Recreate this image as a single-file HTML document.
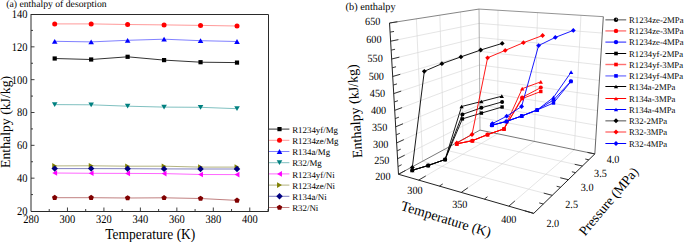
<!DOCTYPE html>
<html><head><meta charset="utf-8"><style>
html,body{margin:0;padding:0;background:#fff;}
body{width:685px;height:242px;overflow:hidden;}
svg{display:block;font-family:"Liberation Serif", serif;}
text{fill:#000;text-rendering:geometricPrecision;}
</style></head><body>
<svg width="685" height="242" viewBox="0 0 685 242">
<text x="6.3" y="7" font-size="9.7" text-anchor="start" >(a) enthalpy of desorption</text>
<line x1="49.23" y1="211" x2="49.23" y2="209" stroke="#2a2a2a" stroke-width="0.9"/>
<line x1="67.46" y1="211" x2="67.46" y2="207.5" stroke="#2a2a2a" stroke-width="0.9"/>
<line x1="85.69" y1="211" x2="85.69" y2="209" stroke="#2a2a2a" stroke-width="0.9"/>
<line x1="103.92" y1="211" x2="103.92" y2="207.5" stroke="#2a2a2a" stroke-width="0.9"/>
<line x1="122.15" y1="211" x2="122.15" y2="209" stroke="#2a2a2a" stroke-width="0.9"/>
<line x1="140.38" y1="211" x2="140.38" y2="207.5" stroke="#2a2a2a" stroke-width="0.9"/>
<line x1="158.62" y1="211" x2="158.62" y2="209" stroke="#2a2a2a" stroke-width="0.9"/>
<line x1="176.85" y1="211" x2="176.85" y2="207.5" stroke="#2a2a2a" stroke-width="0.9"/>
<line x1="195.08" y1="211" x2="195.08" y2="209" stroke="#2a2a2a" stroke-width="0.9"/>
<line x1="213.31" y1="211" x2="213.31" y2="207.5" stroke="#2a2a2a" stroke-width="0.9"/>
<line x1="231.54" y1="211" x2="231.54" y2="209" stroke="#2a2a2a" stroke-width="0.9"/>
<line x1="249.77" y1="211" x2="249.77" y2="207.5" stroke="#2a2a2a" stroke-width="0.9"/>
<line x1="268" y1="211" x2="268" y2="209" stroke="#2a2a2a" stroke-width="0.9"/>
<line x1="31" y1="194.58" x2="33" y2="194.58" stroke="#2a2a2a" stroke-width="0.9"/>
<line x1="31" y1="178.17" x2="34.5" y2="178.17" stroke="#2a2a2a" stroke-width="0.9"/>
<line x1="31" y1="161.75" x2="33" y2="161.75" stroke="#2a2a2a" stroke-width="0.9"/>
<line x1="31" y1="145.33" x2="34.5" y2="145.33" stroke="#2a2a2a" stroke-width="0.9"/>
<line x1="31" y1="128.92" x2="33" y2="128.92" stroke="#2a2a2a" stroke-width="0.9"/>
<line x1="31" y1="112.5" x2="34.5" y2="112.5" stroke="#2a2a2a" stroke-width="0.9"/>
<line x1="31" y1="96.08" x2="33" y2="96.08" stroke="#2a2a2a" stroke-width="0.9"/>
<line x1="31" y1="79.67" x2="34.5" y2="79.67" stroke="#2a2a2a" stroke-width="0.9"/>
<line x1="31" y1="63.25" x2="33" y2="63.25" stroke="#2a2a2a" stroke-width="0.9"/>
<line x1="31" y1="46.83" x2="34.5" y2="46.83" stroke="#2a2a2a" stroke-width="0.9"/>
<line x1="31" y1="30.42" x2="33" y2="30.42" stroke="#2a2a2a" stroke-width="0.9"/>
<path d="M31,14.5H268.5V211.5H31V14" fill="none" stroke="#2a2a2a" stroke-width="1"/>
<text transform="translate(31,223) scale(1,1.12)" font-size="10.5" text-anchor="middle" >280</text>
<text transform="translate(67.46,223) scale(1,1.12)" font-size="10.5" text-anchor="middle" >300</text>
<text transform="translate(103.92,223) scale(1,1.12)" font-size="10.5" text-anchor="middle" >320</text>
<text transform="translate(140.38,223) scale(1,1.12)" font-size="10.5" text-anchor="middle" >340</text>
<text transform="translate(176.85,223) scale(1,1.12)" font-size="10.5" text-anchor="middle" >360</text>
<text transform="translate(213.31,223) scale(1,1.12)" font-size="10.5" text-anchor="middle" >380</text>
<text transform="translate(249.77,223) scale(1,1.12)" font-size="10.5" text-anchor="middle" >400</text>
<text transform="translate(27.6,214.9) scale(1,1.12)" font-size="10.5" text-anchor="end" >20</text>
<text transform="translate(27.6,182.07) scale(1,1.12)" font-size="10.5" text-anchor="end" >40</text>
<text transform="translate(27.6,149.23) scale(1,1.12)" font-size="10.5" text-anchor="end" >60</text>
<text transform="translate(27.6,116.4) scale(1,1.12)" font-size="10.5" text-anchor="end" >80</text>
<text transform="translate(27.6,83.57) scale(1,1.12)" font-size="10.5" text-anchor="end" >100</text>
<text transform="translate(27.6,50.73) scale(1,1.12)" font-size="10.5" text-anchor="end" >120</text>
<text transform="translate(27.6,17.9) scale(1,1.12)" font-size="10.5" text-anchor="end" >140</text>
<text transform="translate(150.3,238.7) scale(1,1.12)" font-size="13.5" text-anchor="middle" >Temperature (K)</text>
<text transform="translate(9.9,121.9) rotate(-90)" font-size="13.75" text-anchor="middle">Enthalpy (kJ/kg)</text>
<polyline points="54.7,58.5 91.16,59.5 127.62,56.8 164.08,60.1 200.55,62.2 237.01,62.6" fill="none" stroke="#000000" stroke-width="0.8"/>
<rect x="52.6" y="56.4" width="4.2" height="4.2" fill="#000000"/>
<rect x="89.06" y="57.4" width="4.2" height="4.2" fill="#000000"/>
<rect x="125.52" y="54.7" width="4.2" height="4.2" fill="#000000"/>
<rect x="161.98" y="58" width="4.2" height="4.2" fill="#000000"/>
<rect x="198.45" y="60.1" width="4.2" height="4.2" fill="#000000"/>
<rect x="234.91" y="60.5" width="4.2" height="4.2" fill="#000000"/>
<polyline points="54.7,23.9 91.16,23.9 127.62,24.5 164.08,24.9 200.55,25.4 237.01,26" fill="none" stroke="#ff8080" stroke-width="0.8"/>
<circle cx="54.7" cy="23.9" r="2.5" fill="#ff0000"/>
<circle cx="91.16" cy="23.9" r="2.5" fill="#ff0000"/>
<circle cx="127.62" cy="24.5" r="2.5" fill="#ff0000"/>
<circle cx="164.08" cy="24.9" r="2.5" fill="#ff0000"/>
<circle cx="200.55" cy="25.4" r="2.5" fill="#ff0000"/>
<circle cx="237.01" cy="26" r="2.5" fill="#ff0000"/>
<polyline points="54.7,41.3 91.16,41.9 127.62,40.3 164.08,39.2 200.55,40.7 237.01,41.5" fill="none" stroke="#6060ff" stroke-width="0.8"/>
<polygon points="54.7,38.88 57.49,43.72 51.91,43.72" fill="#0000ff"/>
<polygon points="91.16,39.48 93.95,44.32 88.37,44.32" fill="#0000ff"/>
<polygon points="127.62,37.88 130.42,42.72 124.83,42.72" fill="#0000ff"/>
<polygon points="164.08,36.78 166.88,41.62 161.29,41.62" fill="#0000ff"/>
<polygon points="200.55,38.28 203.34,43.12 197.75,43.12" fill="#0000ff"/>
<polygon points="237.01,39.08 239.8,43.92 234.22,43.92" fill="#0000ff"/>
<polyline points="54.7,104.6 91.16,104.8 127.62,106.2 164.08,107.1 200.55,107.3 237.01,108.7" fill="none" stroke="#60b0b0" stroke-width="0.8"/>
<polygon points="54.7,107.02 51.91,102.18 57.49,102.18" fill="#008080"/>
<polygon points="91.16,107.22 88.37,102.38 93.95,102.38" fill="#008080"/>
<polygon points="127.62,108.62 124.83,103.78 130.42,103.78" fill="#008080"/>
<polygon points="164.08,109.52 161.29,104.68 166.88,104.68" fill="#008080"/>
<polygon points="200.55,109.72 197.75,104.88 203.34,104.88" fill="#008080"/>
<polygon points="237.01,111.12 234.22,106.28 239.8,106.28" fill="#008080"/>
<polyline points="54.7,173 91.16,173.3 127.62,173.4 164.08,173.6 200.55,174.5 237.01,174.6" fill="none" stroke="#ff40ff" stroke-width="0.8"/>
<polygon points="52.28,173 57.12,170.21 57.12,175.79" fill="#ff00ff"/>
<polygon points="88.74,173.3 93.58,170.51 93.58,176.09" fill="#ff00ff"/>
<polygon points="125.21,173.4 130.04,170.61 130.04,176.19" fill="#ff00ff"/>
<polygon points="161.67,173.6 166.5,170.81 166.5,176.39" fill="#ff00ff"/>
<polygon points="198.13,174.5 202.96,171.71 202.96,177.29" fill="#ff00ff"/>
<polygon points="234.59,174.6 239.43,171.81 239.43,177.39" fill="#ff00ff"/>
<polyline points="54.7,165.9 91.16,165.8 127.62,166.2 164.08,166.2 200.55,167.1 237.01,167.1" fill="none" stroke="#a0a060" stroke-width="0.8"/>
<polygon points="57.12,165.9 52.28,168.69 52.28,163.11" fill="#808000"/>
<polygon points="93.58,165.8 88.74,168.59 88.74,163.01" fill="#808000"/>
<polygon points="130.04,166.2 125.21,168.99 125.21,163.41" fill="#808000"/>
<polygon points="166.5,166.2 161.67,168.99 161.67,163.41" fill="#808000"/>
<polygon points="202.96,167.1 198.13,169.89 198.13,164.31" fill="#808000"/>
<polygon points="239.43,167.1 234.59,169.89 234.59,164.31" fill="#808000"/>
<polyline points="54.7,168.6 91.16,168.6 127.62,168.7 164.08,168.9 200.55,169 237.01,169" fill="none" stroke="#6060b0" stroke-width="0.8"/>
<polygon points="54.7,165.38 57.92,168.6 54.7,171.82 51.48,168.6" fill="#000080"/>
<polygon points="91.16,165.38 94.39,168.6 91.16,171.82 87.94,168.6" fill="#000080"/>
<polygon points="127.62,165.48 130.85,168.7 127.62,171.92 124.4,168.7" fill="#000080"/>
<polygon points="164.08,165.68 167.31,168.9 164.08,172.12 160.86,168.9" fill="#000080"/>
<polygon points="200.55,165.78 203.77,169 200.55,172.22 197.32,169" fill="#000080"/>
<polygon points="237.01,165.78 240.23,169 237.01,172.22 233.78,169" fill="#000080"/>
<polyline points="54.7,197.7 91.16,197.7 127.62,198 164.08,197.8 200.55,198.5 237.01,200.4" fill="none" stroke="#b06060" stroke-width="0.8"/>
<polygon points="54.7,194.84 57.42,196.82 56.38,200.01 53.02,200.01 51.98,196.82" fill="#800000"/>
<polygon points="91.16,194.84 93.88,196.82 92.84,200.01 89.48,200.01 88.44,196.82" fill="#800000"/>
<polygon points="127.62,195.14 130.34,197.12 129.3,200.31 125.94,200.31 124.9,197.12" fill="#800000"/>
<polygon points="164.08,194.94 166.8,196.92 165.77,200.11 162.4,200.11 161.36,196.92" fill="#800000"/>
<polygon points="200.55,195.64 203.27,197.62 202.23,200.81 198.87,200.81 197.83,197.62" fill="#800000"/>
<polygon points="237.01,197.54 239.73,199.52 238.69,202.71 235.33,202.71 234.29,199.52" fill="#800000"/>
<line x1="269" y1="129.1" x2="289.4" y2="129.1" stroke="#000000" stroke-width="0.8"/>
<rect x="277.4" y="127" width="4.2" height="4.2" fill="#000000"/>
<text x="292.2" y="132.7" font-size="8.9" text-anchor="start" >R1234yf/Mg</text>
<line x1="269" y1="140.3" x2="289.4" y2="140.3" stroke="#ff8080" stroke-width="0.8"/>
<circle cx="279.5" cy="140.3" r="2.5" fill="#ff0000"/>
<text x="292.2" y="143.9" font-size="8.9" text-anchor="start" >R1234ze/Mg</text>
<line x1="269" y1="151.5" x2="289.4" y2="151.5" stroke="#6060ff" stroke-width="0.8"/>
<polygon points="279.5,149.08 282.29,153.92 276.71,153.92" fill="#0000ff"/>
<text x="292.2" y="155.1" font-size="8.9" text-anchor="start" >R134a/Mg</text>
<line x1="269" y1="162.7" x2="289.4" y2="162.7" stroke="#60b0b0" stroke-width="0.8"/>
<polygon points="279.5,165.12 276.71,160.28 282.29,160.28" fill="#008080"/>
<text x="292.2" y="166.3" font-size="8.9" text-anchor="start" >R32/Mg</text>
<line x1="269" y1="173.9" x2="289.4" y2="173.9" stroke="#ff40ff" stroke-width="0.8"/>
<polygon points="277.08,173.9 281.92,171.11 281.92,176.69" fill="#ff00ff"/>
<text x="292.2" y="177.5" font-size="8.9" text-anchor="start" >R1234yf/Ni</text>
<line x1="269" y1="185.1" x2="289.4" y2="185.1" stroke="#a0a060" stroke-width="0.8"/>
<polygon points="281.92,185.1 277.08,187.89 277.08,182.31" fill="#808000"/>
<text x="292.2" y="188.7" font-size="8.9" text-anchor="start" >R1234ze/Ni</text>
<line x1="269" y1="196.3" x2="289.4" y2="196.3" stroke="#6060b0" stroke-width="0.8"/>
<polygon points="279.5,193.08 282.72,196.3 279.5,199.52 276.28,196.3" fill="#000080"/>
<text x="292.2" y="199.9" font-size="8.9" text-anchor="start" >R134a/Ni</text>
<line x1="269" y1="207.5" x2="289.4" y2="207.5" stroke="#b06060" stroke-width="0.8"/>
<polygon points="279.5,204.64 282.22,206.62 281.18,209.81 277.82,209.81 276.78,206.62" fill="#800000"/>
<text x="292.2" y="211.1" font-size="8.9" text-anchor="start" >R32/Ni</text>
<text x="345.6" y="9.8" font-size="10.3" text-anchor="start" >(b) enthalpy</text>
<line x1="397.57" y1="158.76" x2="479.93" y2="117.49" stroke="#d4d4d4" stroke-width="0.6"/>
<line x1="396.63" y1="142.94" x2="479.82" y2="104.67" stroke="#d4d4d4" stroke-width="0.6"/>
<line x1="395.68" y1="126.82" x2="479.71" y2="91.65" stroke="#d4d4d4" stroke-width="0.6"/>
<line x1="394.71" y1="110.37" x2="479.6" y2="78.42" stroke="#d4d4d4" stroke-width="0.6"/>
<line x1="393.72" y1="93.59" x2="479.49" y2="64.99" stroke="#d4d4d4" stroke-width="0.6"/>
<line x1="392.71" y1="76.48" x2="479.38" y2="51.34" stroke="#d4d4d4" stroke-width="0.6"/>
<line x1="391.67" y1="59.02" x2="479.26" y2="37.47" stroke="#d4d4d4" stroke-width="0.6"/>
<line x1="390.62" y1="41.19" x2="479.15" y2="23.39" stroke="#d4d4d4" stroke-width="0.6"/>
<line x1="422.6" y1="161.22" x2="416.36" y2="18.82" stroke="#d4d4d4" stroke-width="0.6"/>
<line x1="443.94" y1="149.66" x2="439.85" y2="15.17" stroke="#d4d4d4" stroke-width="0.6"/>
<line x1="462.97" y1="139.36" x2="460.59" y2="11.94" stroke="#d4d4d4" stroke-width="0.6"/>
<line x1="479.93" y1="117.49" x2="595.72" y2="139.74" stroke="#d4d4d4" stroke-width="0.6"/>
<line x1="479.82" y1="104.67" x2="596.61" y2="125.3" stroke="#d4d4d4" stroke-width="0.6"/>
<line x1="479.71" y1="91.65" x2="597.52" y2="110.6" stroke="#d4d4d4" stroke-width="0.6"/>
<line x1="479.6" y1="78.42" x2="598.45" y2="95.65" stroke="#d4d4d4" stroke-width="0.6"/>
<line x1="479.49" y1="64.99" x2="599.39" y2="80.42" stroke="#d4d4d4" stroke-width="0.6"/>
<line x1="479.38" y1="51.34" x2="600.35" y2="64.92" stroke="#d4d4d4" stroke-width="0.6"/>
<line x1="479.26" y1="37.47" x2="601.33" y2="49.13" stroke="#d4d4d4" stroke-width="0.6"/>
<line x1="479.15" y1="23.39" x2="602.32" y2="33.05" stroke="#d4d4d4" stroke-width="0.6"/>
<line x1="497.71" y1="133.79" x2="498" y2="10.23" stroke="#d4d4d4" stroke-width="0.6"/>
<line x1="534.36" y1="141.39" x2="537.54" y2="12.65" stroke="#d4d4d4" stroke-width="0.6"/>
<line x1="574.34" y1="149.68" x2="580.95" y2="15.3" stroke="#d4d4d4" stroke-width="0.6"/>
<line x1="418.67" y1="180.11" x2="497.71" y2="133.79" stroke="#d4d4d4" stroke-width="0.6"/>
<line x1="461.24" y1="192.42" x2="534.36" y2="141.39" stroke="#d4d4d4" stroke-width="0.6"/>
<line x1="508.83" y1="206.18" x2="574.34" y2="149.68" stroke="#d4d4d4" stroke-width="0.6"/>
<line x1="422.6" y1="161.22" x2="552.26" y2="195.34" stroke="#d4d4d4" stroke-width="0.6"/>
<line x1="443.94" y1="149.66" x2="568.34" y2="179.7" stroke="#d4d4d4" stroke-width="0.6"/>
<line x1="462.97" y1="139.36" x2="582.42" y2="166.01" stroke="#d4d4d4" stroke-width="0.6"/>
<line x1="480.03" y1="130.12" x2="479.03" y2="9.07" stroke="#999" stroke-width="0.8"/>
<line x1="398.49" y1="174.27" x2="480.03" y2="130.12" stroke="#555" stroke-width="0.8"/>
<line x1="480.03" y1="130.12" x2="594.84" y2="153.93" stroke="#555" stroke-width="0.8"/>
<line x1="389.54" y1="23" x2="479.03" y2="9.07" stroke="#666" stroke-width="0.8"/>
<line x1="479.03" y1="9.07" x2="603.34" y2="16.67" stroke="#777" stroke-width="0.8"/>
<line x1="594.84" y1="153.93" x2="603.34" y2="16.67" stroke="#555" stroke-width="0.9"/>
<line x1="398.49" y1="174.27" x2="389.54" y2="23" stroke="#222" stroke-width="1.0"/>
<line x1="398.49" y1="174.27" x2="533.71" y2="213.38" stroke="#222" stroke-width="1.0"/>
<line x1="533.71" y1="213.38" x2="594.84" y2="153.93" stroke="#222" stroke-width="1.0"/>
<line x1="398.49" y1="174.27" x2="405.55" y2="170.45" stroke="#222" stroke-width="0.9"/>
<line x1="398.03" y1="166.55" x2="401.61" y2="164.69" stroke="#222" stroke-width="0.9"/>
<line x1="397.57" y1="158.76" x2="404.71" y2="155.18" stroke="#222" stroke-width="0.9"/>
<line x1="397.1" y1="150.89" x2="400.73" y2="149.15" stroke="#222" stroke-width="0.9"/>
<line x1="396.63" y1="142.94" x2="403.86" y2="139.62" stroke="#222" stroke-width="0.9"/>
<line x1="396.16" y1="134.92" x2="399.83" y2="133.31" stroke="#222" stroke-width="0.9"/>
<line x1="395.68" y1="126.82" x2="403" y2="123.75" stroke="#222" stroke-width="0.9"/>
<line x1="395.2" y1="118.63" x2="398.91" y2="117.16" stroke="#222" stroke-width="0.9"/>
<line x1="394.71" y1="110.37" x2="402.11" y2="107.58" stroke="#222" stroke-width="0.9"/>
<line x1="394.22" y1="102.02" x2="397.98" y2="100.69" stroke="#222" stroke-width="0.9"/>
<line x1="393.72" y1="93.59" x2="401.21" y2="91.09" stroke="#222" stroke-width="0.9"/>
<line x1="393.21" y1="85.08" x2="397.02" y2="83.89" stroke="#222" stroke-width="0.9"/>
<line x1="392.71" y1="76.48" x2="400.3" y2="74.28" stroke="#222" stroke-width="0.9"/>
<line x1="392.19" y1="67.79" x2="396.05" y2="66.76" stroke="#222" stroke-width="0.9"/>
<line x1="391.67" y1="59.02" x2="399.36" y2="57.13" stroke="#222" stroke-width="0.9"/>
<line x1="391.15" y1="50.15" x2="395.05" y2="49.28" stroke="#222" stroke-width="0.9"/>
<line x1="390.62" y1="41.19" x2="398.4" y2="39.63" stroke="#222" stroke-width="0.9"/>
<line x1="390.09" y1="32.14" x2="394.04" y2="31.44" stroke="#222" stroke-width="0.9"/>
<line x1="389.54" y1="23" x2="397.43" y2="21.77" stroke="#222" stroke-width="0.9"/>
<line x1="418.67" y1="180.11" x2="425.79" y2="175.94" stroke="#222" stroke-width="0.9"/>
<line x1="439.38" y1="186.1" x2="442.75" y2="183.95" stroke="#222" stroke-width="0.9"/>
<line x1="461.24" y1="192.42" x2="467.9" y2="187.78" stroke="#222" stroke-width="0.9"/>
<line x1="484.36" y1="199.11" x2="487.46" y2="196.71" stroke="#222" stroke-width="0.9"/>
<line x1="508.83" y1="206.18" x2="514.86" y2="200.98" stroke="#222" stroke-width="0.9"/>
<line x1="533.71" y1="213.38" x2="524.73" y2="210.78" stroke="#222" stroke-width="0.9"/>
<line x1="543.33" y1="204.03" x2="539.19" y2="202.89" stroke="#222" stroke-width="0.9"/>
<line x1="552.26" y1="195.34" x2="543.74" y2="193.1" stroke="#222" stroke-width="0.9"/>
<line x1="560.57" y1="187.25" x2="556.65" y2="186.26" stroke="#222" stroke-width="0.9"/>
<line x1="568.34" y1="179.7" x2="560.24" y2="177.75" stroke="#222" stroke-width="0.9"/>
<line x1="575.6" y1="172.64" x2="571.87" y2="171.77" stroke="#222" stroke-width="0.9"/>
<line x1="582.42" y1="166.01" x2="574.7" y2="164.29" stroke="#222" stroke-width="0.9"/>
<line x1="588.82" y1="159.79" x2="585.25" y2="159.02" stroke="#222" stroke-width="0.9"/>
<line x1="594.84" y1="153.93" x2="587.48" y2="152.4" stroke="#222" stroke-width="0.9"/>
<text transform="translate(390.49,179.77) scale(1,1.08)" font-size="10.2" text-anchor="end" >200</text>
<text transform="translate(389.45,163.87) scale(1,1.08)" font-size="10.2" text-anchor="end" >250</text>
<text transform="translate(388.39,147.67) scale(1,1.08)" font-size="10.2" text-anchor="end" >300</text>
<text transform="translate(387.3,131.15) scale(1,1.08)" font-size="10.2" text-anchor="end" >350</text>
<text transform="translate(386.2,114.3) scale(1,1.08)" font-size="10.2" text-anchor="end" >400</text>
<text transform="translate(385.08,97.12) scale(1,1.08)" font-size="10.2" text-anchor="end" >450</text>
<text transform="translate(383.93,79.59) scale(1,1.08)" font-size="10.2" text-anchor="end" >500</text>
<text transform="translate(382.76,61.7) scale(1,1.08)" font-size="10.2" text-anchor="end" >550</text>
<text transform="translate(381.56,43.44) scale(1,1.08)" font-size="10.2" text-anchor="end" >600</text>
<text transform="translate(380.35,24.8) scale(1,1.08)" font-size="10.2" text-anchor="end" >650</text>
<text transform="translate(415,193.9) scale(1,1.08)" font-size="10.2" text-anchor="middle" >300</text>
<text transform="translate(459.8,207.5) scale(1,1.08)" font-size="10.2" text-anchor="middle" >350</text>
<text transform="translate(508.8,222.7) scale(1,1.08)" font-size="10.2" text-anchor="middle" >400</text>
<text transform="translate(552.8,227) scale(1,1.08)" font-size="10.2" text-anchor="middle" >2.0</text>
<text transform="translate(571.6,207.7) scale(1,1.08)" font-size="10.2" text-anchor="middle" >2.5</text>
<text transform="translate(587.1,190.6) scale(1,1.08)" font-size="10.2" text-anchor="middle" >3.0</text>
<text transform="translate(600.4,176.5) scale(1,1.08)" font-size="10.2" text-anchor="middle" >3.5</text>
<text transform="translate(613,163.2) scale(1,1.08)" font-size="10.2" text-anchor="middle" >4.0</text>
<text transform="translate(359.5,110.9) rotate(-93.5)" font-size="14" text-anchor="middle">Enthalpy (kJ/kg)</text>
<text transform="translate(444.8,223.5) rotate(17)" font-size="14" text-anchor="middle">Temperature (K)</text>
<text transform="translate(612,204.3) rotate(-50)" font-size="13.6" text-anchor="middle">Pressure (MPa)</text>
<polyline points="412.3,170.3 428.2,165.5 445.1,159.5 462.4,114.4 481.4,107.8 502.1,101.9" fill="none" stroke="#000" stroke-width="0.9"/>
<polyline points="456.8,143.8 472.4,140.7 487.5,134.6 504,128.9 522.2,97.4 540.8,87.6" fill="none" stroke="#f00" stroke-width="0.9"/>
<polyline points="491.9,125.2 506.5,121.4 521.7,116 537.1,110 553.5,100 570.9,81.2" fill="none" stroke="#00f" stroke-width="0.9"/>
<polyline points="412.3,170.3 428.2,165.5 445.1,159.5 462.4,118.9 481.4,113.1 502.1,107" fill="none" stroke="#000" stroke-width="0.9"/>
<polyline points="456.8,143.8 472.4,140.7 487.5,134.6 504,128.9 522.2,98.6 540.8,91.5" fill="none" stroke="#f00" stroke-width="0.9"/>
<polyline points="491.9,125.4 506.5,121.4 521.7,116 537.1,110 553.5,103 570.9,81.5" fill="none" stroke="#00f" stroke-width="0.9"/>
<polyline points="412.3,170.3 428.2,165.5 445.1,159.5 461.6,106.5 481.4,101.5 501.8,96.2" fill="none" stroke="#000" stroke-width="0.9"/>
<polyline points="456.8,143.8 472.4,140.7 487.5,134.6 504,128.9 522.2,88.7 540.8,81.8" fill="none" stroke="#f00" stroke-width="0.9"/>
<polyline points="491.9,125.2 506.5,121.4 521.7,116 537.1,110 553.5,97.4 571.1,72.2" fill="none" stroke="#00f" stroke-width="0.9"/>
<polyline points="412.3,167.4 424.3,71.3 441.9,63.7 460.9,56.9 480.7,50 502.2,43.4" fill="none" stroke="#000" stroke-width="0.9"/>
<polyline points="456.8,143 472,134.5 487.6,57.8 505.2,50.4 523.4,42.7 542.6,35.5" fill="none" stroke="#f00" stroke-width="0.9"/>
<polyline points="492.4,123.6 506.7,116.2 521.6,106.5 538.6,45.6 555.3,37.4 573.3,30.4" fill="none" stroke="#00f" stroke-width="0.9"/>
<rect x="410.6" y="168.6" width="3.4" height="3.4" fill="#000"/>
<rect x="426.5" y="163.8" width="3.4" height="3.4" fill="#000"/>
<rect x="443.4" y="157.8" width="3.4" height="3.4" fill="#000"/>
<rect x="460.7" y="117.2" width="3.4" height="3.4" fill="#000"/>
<rect x="479.7" y="111.4" width="3.4" height="3.4" fill="#000"/>
<rect x="500.4" y="105.3" width="3.4" height="3.4" fill="#000"/>
<rect x="455.1" y="142.1" width="3.4" height="3.4" fill="#f00"/>
<rect x="470.7" y="139" width="3.4" height="3.4" fill="#f00"/>
<rect x="485.8" y="132.9" width="3.4" height="3.4" fill="#f00"/>
<rect x="502.3" y="127.2" width="3.4" height="3.4" fill="#f00"/>
<rect x="520.5" y="96.9" width="3.4" height="3.4" fill="#f00"/>
<rect x="539.1" y="89.8" width="3.4" height="3.4" fill="#f00"/>
<rect x="490.2" y="123.7" width="3.4" height="3.4" fill="#00f"/>
<rect x="504.8" y="119.7" width="3.4" height="3.4" fill="#00f"/>
<rect x="520" y="114.3" width="3.4" height="3.4" fill="#00f"/>
<rect x="535.4" y="108.3" width="3.4" height="3.4" fill="#00f"/>
<rect x="551.8" y="101.3" width="3.4" height="3.4" fill="#00f"/>
<rect x="569.2" y="79.8" width="3.4" height="3.4" fill="#00f"/>
<polygon points="412.3,168.44 414.45,172.16 410.15,172.16" fill="#000"/>
<polygon points="428.2,163.64 430.35,167.36 426.05,167.36" fill="#000"/>
<polygon points="445.1,157.64 447.25,161.36 442.95,161.36" fill="#000"/>
<polygon points="461.6,104.64 463.75,108.36 459.45,108.36" fill="#000"/>
<polygon points="481.4,99.64 483.55,103.36 479.25,103.36" fill="#000"/>
<polygon points="501.8,94.34 503.95,98.06 499.65,98.06" fill="#000"/>
<polygon points="456.8,141.94 458.95,145.66 454.65,145.66" fill="#f00"/>
<polygon points="472.4,138.84 474.55,142.56 470.25,142.56" fill="#f00"/>
<polygon points="487.5,132.74 489.65,136.46 485.35,136.46" fill="#f00"/>
<polygon points="504,127.04 506.15,130.76 501.85,130.76" fill="#f00"/>
<polygon points="522.2,86.84 524.35,90.56 520.05,90.56" fill="#f00"/>
<polygon points="540.8,79.94 542.95,83.66 538.65,83.66" fill="#f00"/>
<polygon points="491.9,123.34 494.05,127.06 489.75,127.06" fill="#00f"/>
<polygon points="506.5,119.54 508.65,123.26 504.35,123.26" fill="#00f"/>
<polygon points="521.7,114.14 523.85,117.86 519.55,117.86" fill="#00f"/>
<polygon points="537.1,108.14 539.25,111.86 534.95,111.86" fill="#00f"/>
<polygon points="553.5,95.54 555.65,99.26 551.35,99.26" fill="#00f"/>
<polygon points="571.1,70.34 573.25,74.06 568.95,74.06" fill="#00f"/>
<polygon points="412.3,164.98 414.72,167.4 412.3,169.82 409.88,167.4" fill="#000"/>
<polygon points="424.3,68.88 426.72,71.3 424.3,73.72 421.88,71.3" fill="#000"/>
<polygon points="441.9,61.28 444.32,63.7 441.9,66.12 439.48,63.7" fill="#000"/>
<polygon points="460.9,54.48 463.32,56.9 460.9,59.32 458.48,56.9" fill="#000"/>
<polygon points="480.7,47.58 483.12,50 480.7,52.42 478.28,50" fill="#000"/>
<polygon points="502.2,40.98 504.62,43.4 502.2,45.82 499.78,43.4" fill="#000"/>
<polygon points="456.8,140.58 459.22,143 456.8,145.42 454.38,143" fill="#f00"/>
<polygon points="472,132.08 474.42,134.5 472,136.92 469.58,134.5" fill="#f00"/>
<polygon points="487.6,55.38 490.02,57.8 487.6,60.22 485.18,57.8" fill="#f00"/>
<polygon points="505.2,47.98 507.62,50.4 505.2,52.82 502.78,50.4" fill="#f00"/>
<polygon points="523.4,40.28 525.82,42.7 523.4,45.12 520.98,42.7" fill="#f00"/>
<polygon points="542.6,33.08 545.02,35.5 542.6,37.92 540.18,35.5" fill="#f00"/>
<polygon points="492.4,121.18 494.82,123.6 492.4,126.02 489.98,123.6" fill="#00f"/>
<polygon points="506.7,113.78 509.12,116.2 506.7,118.62 504.28,116.2" fill="#00f"/>
<polygon points="521.6,104.08 524.02,106.5 521.6,108.92 519.18,106.5" fill="#00f"/>
<polygon points="538.6,43.18 541.02,45.6 538.6,48.02 536.18,45.6" fill="#00f"/>
<polygon points="555.3,34.98 557.72,37.4 555.3,39.82 552.88,37.4" fill="#00f"/>
<polygon points="573.3,27.98 575.72,30.4 573.3,32.82 570.88,30.4" fill="#00f"/>
<circle cx="412.3" cy="170.3" r="2" fill="#000"/>
<circle cx="428.2" cy="165.5" r="2" fill="#000"/>
<circle cx="445.1" cy="159.5" r="2" fill="#000"/>
<circle cx="462.4" cy="114.4" r="2" fill="#000"/>
<circle cx="481.4" cy="107.8" r="2" fill="#000"/>
<circle cx="502.1" cy="101.9" r="2" fill="#000"/>
<circle cx="456.8" cy="143.8" r="2" fill="#f00"/>
<circle cx="472.4" cy="140.7" r="2" fill="#f00"/>
<circle cx="487.5" cy="134.6" r="2" fill="#f00"/>
<circle cx="504" cy="128.9" r="2" fill="#f00"/>
<circle cx="522.2" cy="97.4" r="2" fill="#f00"/>
<circle cx="540.8" cy="87.6" r="2" fill="#f00"/>
<circle cx="491.9" cy="125.2" r="2" fill="#00f"/>
<circle cx="506.5" cy="121.4" r="2" fill="#00f"/>
<circle cx="521.7" cy="116" r="2" fill="#00f"/>
<circle cx="537.1" cy="110" r="2" fill="#00f"/>
<circle cx="553.5" cy="100" r="2" fill="#00f"/>
<circle cx="570.9" cy="81.2" r="2" fill="#00f"/>
<line x1="605.4" y1="19.8" x2="626.2" y2="19.8" stroke="#8a8a8a" stroke-width="1.5"/>
<circle cx="616" cy="19.8" r="2.2" fill="#000"/>
<circle cx="616.6" cy="19.2" r="0.7" fill="#999"/>
<text x="629" y="23.1" font-size="8.7" text-anchor="start" >R1234ze-2MPa</text>
<line x1="605.4" y1="30.9" x2="626.2" y2="30.9" stroke="#ff8080" stroke-width="1.5"/>
<circle cx="616" cy="30.9" r="2.2" fill="#f00"/>
<text x="629" y="34.2" font-size="8.7" text-anchor="start" >R1234ze-3MPa</text>
<line x1="605.4" y1="42.1" x2="626.2" y2="42.1" stroke="#3030ff" stroke-width="1.1"/>
<circle cx="616" cy="42.1" r="2.2" fill="#00f"/>
<text x="629" y="45.4" font-size="8.7" text-anchor="start" >R1234ze-4MPa</text>
<line x1="605.4" y1="53.5" x2="626.2" y2="53.5" stroke="#000" stroke-width="1.0"/>
<rect x="614.2" y="51.7" width="3.6" height="3.6" fill="#000"/>
<text x="629" y="56.8" font-size="8.7" text-anchor="start" >R1234yf-2MPa</text>
<line x1="605.4" y1="64.5" x2="626.2" y2="64.5" stroke="#ff7070" stroke-width="1.4"/>
<rect x="614.2" y="62.7" width="3.6" height="3.6" fill="#f00"/>
<text x="629" y="67.8" font-size="8.7" text-anchor="start" >R1234yf-3MPa</text>
<line x1="605.4" y1="75.9" x2="626.2" y2="75.9" stroke="#8080ff" stroke-width="1.4"/>
<rect x="614.2" y="74.1" width="3.6" height="3.6" fill="#00f"/>
<text x="629" y="79.2" font-size="8.7" text-anchor="start" >R1234yf-4MPa</text>
<line x1="605.4" y1="86.5" x2="626.2" y2="86.5" stroke="#000" stroke-width="1.0"/>
<polygon points="616,84.64 618.15,88.36 613.85,88.36" fill="#000"/>
<text x="629" y="89.8" font-size="8.7" text-anchor="start" >R134a-2MPa</text>
<line x1="605.4" y1="98.5" x2="626.2" y2="98.5" stroke="#f00" stroke-width="1.0"/>
<polygon points="616,96.64 618.15,100.36 613.85,100.36" fill="#f00"/>
<text x="629" y="101.8" font-size="8.7" text-anchor="start" >R134a-3MPa</text>
<line x1="605.4" y1="109.5" x2="626.2" y2="109.5" stroke="#00f" stroke-width="1.0"/>
<polygon points="616,107.64 618.15,111.36 613.85,111.36" fill="#00f"/>
<text x="629" y="112.8" font-size="8.7" text-anchor="start" >R134a-4MPa</text>
<line x1="605.4" y1="120.8" x2="626.2" y2="120.8" stroke="#8a8a8a" stroke-width="1.5"/>
<polygon points="616,118.32 618.48,120.8 616,123.28 613.52,120.8" fill="#000"/>
<text x="629" y="124.1" font-size="8.7" text-anchor="start" >R32-2MPa</text>
<line x1="605.4" y1="132" x2="626.2" y2="132" stroke="#ff7070" stroke-width="1.4"/>
<polygon points="616,129.52 618.48,132 616,134.48 613.52,132" fill="#f00"/>
<text x="629" y="135.3" font-size="8.7" text-anchor="start" >R32-3MPa</text>
<line x1="605.4" y1="143.5" x2="626.2" y2="143.5" stroke="#00f" stroke-width="1.0"/>
<polygon points="616,141.02 618.48,143.5 616,145.98 613.52,143.5" fill="#00f"/>
<text x="629" y="146.8" font-size="8.7" text-anchor="start" >R32-4MPa</text>
</svg>
</body></html>
